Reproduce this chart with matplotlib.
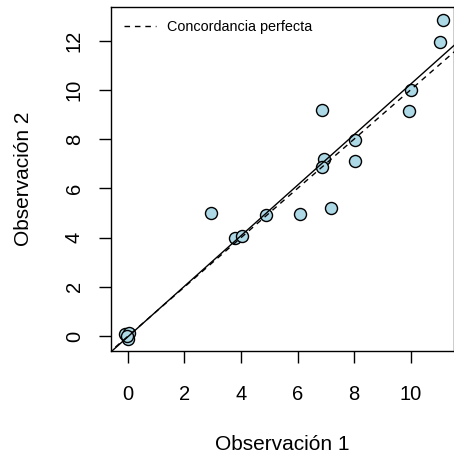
import numpy as np
import matplotlib
matplotlib.use('Agg')
import matplotlib.pyplot as plt

plt.rcParams['font.family'] = ['Liberation Sans', 'DejaVu Sans']

# observaciones
obs1 = [-0.1, 0.05, 0.0, -0.05, 2.95, 3.8, 4.05, 4.87, 6.07, 6.88, 6.94, 6.87,
        7.2, 8.05, 8.05, 10.0, 9.95, 11.05, 11.15]
obs2 = [0.1, 0.12, -0.12, 0.0, 5.0, 4.0, 4.05, 4.9, 4.95, 9.2, 7.2, 6.85,
        5.2, 7.95, 7.1, 10.0, 9.15, 11.95, 12.85]

# recta ajustada
intercepto = -0.02
pendiente = 1.025

xticks = [0, 2, 4, 6, 8, 10]
yticks = [0, 2, 4, 6, 8, 10, 12]

fig = plt.figure(figsize=(4.54, 4.57), dpi=100)
ax = fig.add_axes([0.2445, 0.232, 0.7545, 0.753])

ax.scatter(obs1, obs2, s=75, facecolor='lightblue', edgecolor='black',
           linewidth=1.0, zorder=2)

xs = np.array([-1, 13])
ax.plot(xs, xs, 'k--', linewidth=1.0, dashes=(4, 3.5), zorder=3,
        label='Concordancia perfecta')
ax.plot(xs, intercepto + pendiente * xs, 'k-', linewidth=1.0, zorder=3)

ax.set_xlim(-0.6, 11.52)
ax.set_ylim(-0.6, 13.37)
ax.set_xticks(xticks)
ax.set_yticks(yticks)
ax.tick_params(axis='both', direction='out', length=8.5, width=1,
               labelsize=14.5)
ax.tick_params(axis='x', pad=16)
ax.tick_params(axis='y', pad=11)
for lab in ax.get_yticklabels():
    lab.set_rotation(90)
    lab.set_va('center')

for sp in ax.spines.values():
    sp.set_linewidth(1.0)

ax.set_xlabel('Observación 1', fontsize=15, labelpad=22)
ax.set_ylabel('Observación 2', fontsize=15, labelpad=23)

ax.legend(loc='upper left', frameon=False, fontsize=10.4, handlelength=2.2,
          borderaxespad=0.5)

fig.savefig('out.png', dpi=100)
